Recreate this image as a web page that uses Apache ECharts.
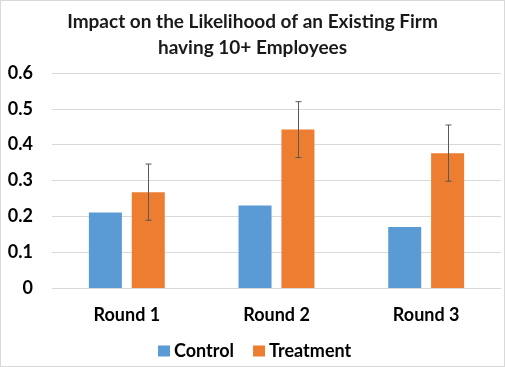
<!DOCTYPE html>
<html><head><meta charset="utf-8">
<script src="https://cdn.jsdelivr.net/npm/echarts@6/dist/echarts.min.js"></script>
<style>
html,body{margin:0;padding:0;background:#fff;}
#c{width:505px;height:367px;box-sizing:border-box;border:1px solid #d9d9d9;}
</style></head>
<body><div id="c"></div>
<script>
const categories = ['Round 1', 'Round 2', 'Round 3'];
const controlValues = [0.211, 0.230, 0.170];
const treatmentValues = [0.267, 0.442, 0.376];
const treatmentErrLow = [0.189, 0.364, 0.298];
const treatmentErrHigh = [0.346, 0.520, 0.455];
const yTicks = [0, 0.1, 0.2, 0.3, 0.4, 0.5, 0.6];

const chart = echarts.init(document.getElementById('c'));
const font = 'Lato, "Open Sans", sans-serif';
const errData = categories.map((c, i) => [i, treatmentErrLow[i], treatmentErrHigh[i]]);

chart.setOption({
  animation: false,
  title: {
    text: 'Impact on the Likelihood of an Existing Firm\nhaving 10+ Employees',
    left: 'center', top: 3,
    textStyle: { fontFamily: font, fontSize: 19, fontWeight: 'bold', color: '#1a1a1a', lineHeight: 26 }
  },
  legend: {
    data: ['Control', 'Treatment'],
    left: 152, top: 336,
    icon: 'rect', itemWidth: 12, itemHeight: 11, itemGap: 19,
    textStyle: { fontFamily: font, fontSize: 18, fontWeight: 'bold', color: '#000', padding: [0, 0, 0, -1] }
  },
  grid: { left: 51, right: 3, top: 72, bottom: 78 },
  xAxis: {
    type: 'category', data: categories,
    axisLine: { show: true, lineStyle: { color: '#d9d9d9' } },
    axisTick: { show: false },
    axisLabel: { fontFamily: font, fontSize: 18, fontWeight: 'bold', color: '#000', margin: 18 }
  },
  yAxis: {
    type: 'value', min: 0, max: 0.6, interval: 0.1,
    axisLine: { show: false }, axisTick: { show: false },
    splitLine: { lineStyle: { color: '#d9d9d9' } },
    axisLabel: {
      fontFamily: font, fontSize: 18, fontWeight: 'bold', color: '#000', margin: 19,
      formatter: v => { const t = yTicks.find(x => Math.abs(x - v) < 1e-9); return t === 0 ? '0' : String(t); }
    }
  },
  series: [
    { name: 'Control', type: 'bar', data: controlValues, barWidth: 33, barGap: '30%',
      itemStyle: { color: '#5b9bd5' } },
    { name: 'Treatment', type: 'bar', data: treatmentValues, barWidth: 33,
      itemStyle: { color: '#ed7d31' } },
    { name: 'err', type: 'custom', data: errData, z: 10,
      renderItem: (params, api) => {
        const idx = api.value(0);
        const lo = api.coord([idx, api.value(1)]);
        const hi = api.coord([idx, api.value(2)]);
        const x = Math.round(lo[0] + 21.5) + 0.5;
        const cap = 3;
        const st = { stroke: '#595959', lineWidth: 1 };
        return { type: 'group', children: [
          { type: 'line', shape: { x1: x, y1: hi[1], x2: x, y2: lo[1] }, style: st },
          { type: 'line', shape: { x1: x - cap, y1: hi[1], x2: x + cap, y2: hi[1] }, style: st },
          { type: 'line', shape: { x1: x - cap, y1: lo[1], x2: x + cap, y2: lo[1] }, style: st }
        ]};
      }
    }
  ]
});
</script></body></html>
